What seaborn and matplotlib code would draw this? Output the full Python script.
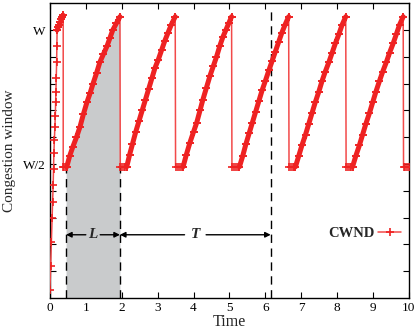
import numpy as np
import pandas as pd
import matplotlib
matplotlib.use("Agg")
import matplotlib.pyplot as plt
import seaborn as sns

# ==========================================
# Data (time in s, window in units of W)
# ==========================================

# slow start + first overshoot
slow_t = [0.00, 0.02, 0.04, 0.06, 0.075, 0.09, 0.10, 0.11, 0.125, 0.14, 0.15, 0.16, 0.167, 0.177, 0.187, 0.195,
          0.20, 0.23, 0.26, 0.29, 0.32, 0.35, 0.37]
slow_w = [0.03, 0.12, 0.21, 0.30, 0.36, 0.42, 0.48, 0.54, 0.59, 0.64, 0.68, 0.73, 0.77, 0.82, 0.88, 0.94,
          1.00, 1.01, 1.02, 1.03, 1.04, 1.05, 1.055]

# congestion avoidance cycles (each starts with the drop to W/2)
c1_t = [0.37, 0.40, 0.44, 0.47, 0.55, 0.64, 0.74, 0.84, 0.93, 1.03, 1.12, 1.20, 1.30, 1.39, 1.49, 1.59, 1.67, 1.75, 1.85, 1.95]
c1_w = [0.49, 0.49, 0.49, 0.49, 0.53, 0.565, 0.60, 0.64, 0.685, 0.73, 0.765, 0.80, 0.84, 0.88, 0.91, 0.94, 0.97, 1.00, 1.025, 1.05]

c2_t = [1.96, 2.00, 2.05, 2.10, 2.14, 2.22, 2.30, 2.39, 2.48, 2.57, 2.66, 2.75, 2.84, 2.93, 3.02, 3.11, 3.20, 3.29, 3.38, 3.49]
c2_w = [0.49, 0.49, 0.49, 0.49, 0.49, 0.535, 0.575, 0.62, 0.66, 0.70, 0.74, 0.78, 0.82, 0.86, 0.89, 0.925, 0.96, 0.99, 1.02, 1.05]

c3_t = [3.50, 3.56, 3.62, 3.67, 3.71, 3.80, 3.90, 4.00, 4.09, 4.18, 4.26, 4.36, 4.46, 4.55, 4.64, 4.73, 4.82, 4.90, 4.98, 5.06]
c3_w = [0.49, 0.49, 0.49, 0.49, 0.49, 0.535, 0.58, 0.62, 0.655, 0.70, 0.74, 0.785, 0.83, 0.865, 0.90, 0.94, 0.975, 1.00, 1.025, 1.05]

c4_t = [5.07, 5.13, 5.19, 5.24, 5.28, 5.37, 5.46, 5.55, 5.64, 5.73, 5.82, 5.91, 6.00, 6.10, 6.19, 6.28, 6.37, 6.46, 6.55, 6.65]
c4_w = [0.49, 0.49, 0.49, 0.49, 0.49, 0.53, 0.575, 0.615, 0.655, 0.695, 0.735, 0.775, 0.81, 0.85, 0.885, 0.92, 0.955, 0.99, 1.02, 1.05]

c5_t = [6.66, 6.71, 6.76, 6.80, 6.84, 6.93, 7.02, 7.12, 7.21, 7.30, 7.39, 7.49, 7.58, 7.67, 7.77, 7.86, 7.95, 8.05, 8.14, 8.24]
c5_w = [0.49, 0.49, 0.49, 0.49, 0.49, 0.53, 0.57, 0.61, 0.65, 0.69, 0.73, 0.77, 0.81, 0.845, 0.88, 0.915, 0.95, 0.985, 1.02, 1.05]

c6_t = [8.25, 8.30, 8.35, 8.39, 8.43, 8.52, 8.62, 8.71, 8.80, 8.90, 8.99, 9.08, 9.18, 9.27, 9.37, 9.46, 9.56, 9.65, 9.74, 9.84]
c6_w = [0.49, 0.49, 0.49, 0.49, 0.49, 0.53, 0.57, 0.61, 0.65, 0.69, 0.73, 0.77, 0.81, 0.845, 0.88, 0.915, 0.95, 0.985, 1.02, 1.05]

end_t = [9.85, 9.90, 9.95, 10.00]
end_w = [0.49, 0.49, 0.49, 0.49]

# annotation positions
l_start, l_end, t_end = 0.45, 1.95, 6.15

df = pd.DataFrame({
    "time": np.concatenate([slow_t, c1_t, c2_t, c3_t, c4_t, c5_t, c6_t, end_t]),
    "cwnd": np.concatenate([slow_w, c1_w, c2_w, c3_w, c4_w, c5_w, c6_w, end_w]),
})

# rising parts only (drawn thicker, like the dense samples in the original)
rise_parts = [(slow_t[16:], slow_w[16:]), (c1_t[3:], c1_w[3:]), (c2_t[4:], c2_w[4:]),
              (c3_t[4:], c3_w[4:]), (c4_t[4:], c4_w[4:]), (c5_t[4:], c5_w[4:]), (c6_t[4:], c6_w[4:])]
rise = pd.concat([pd.DataFrame({"time": t, "cwnd": w, "cycle": i})
                  for i, (t, w) in enumerate(rise_parts)], ignore_index=True)

# ==========================================
# Plot
# ==========================================

sns.set_style("ticks")
plt.rcParams["font.family"] = ["Liberation Serif", "DejaVu Serif"]

fig = plt.figure(figsize=(4.16, 3.30), dpi=100)
ax = fig.add_axes([0.120, 0.097, 0.863, 0.893])

# shaded area under first cycle
c1 = df[(df["time"] >= l_start) & (df["time"] <= l_end)]
ax.fill_between(np.concatenate([[l_start], c1["time"]]),
                np.concatenate([[0.49], c1["cwnd"]]),
                0, color="#c9cbcc", lw=0, zorder=1)

sns.lineplot(
    data=df, x="time", y="cwnd",
    estimator=None, sort=False,
    color="#f24a4a", lw=1.1,
    marker="+", markersize=6, markeredgewidth=1.2,
    markeredgecolor="#ee2222",
    label="CWND", ax=ax, zorder=3
)

sns.lineplot(
    data=rise, x="time", y="cwnd", units="cycle",
    estimator=None, sort=False,
    color="#ee2222", lw=3.6,
    marker="+", markersize=6, markeredgewidth=1.2,
    markeredgecolor="#ee2222",
    legend=False, ax=ax, zorder=4
)

# dashed guides
ax.plot([l_start, l_start], [0, 0.49], ls=(0, (6, 4)), color="black", lw=1, zorder=2)
ax.plot([l_end, l_end], [0, 0.49], ls=(0, (6, 4)), color="black", lw=1, zorder=2)
ax.plot([t_end, t_end], [0, 1.07], ls=(0, (6, 4)), color="black", lw=1, zorder=2)

# L and T arrows
arrow_y = 0.236
l_mid = (l_start + l_end) / 2
t_mid = (l_end + t_end) / 2
for x0, x1 in [(l_mid - 0.2, l_start), (l_mid + 0.2, l_end), (t_mid - 0.3, l_end), (t_mid + 0.3, t_end)]:
    ax.annotate("", xy=(x1, arrow_y), xytext=(x0, arrow_y),
                arrowprops=dict(arrowstyle="-|>", color="black", lw=1, mutation_scale=8,
                                shrinkA=0, shrinkB=0))
ax.text(l_mid, arrow_y, "L", ha="center", va="center", fontsize=11,
        fontweight="bold", fontstyle="italic")
ax.text(t_mid, arrow_y, "T", ha="center", va="center", fontsize=11,
        fontweight="bold", fontstyle="italic")

# axes
ax.set_xlim(0, 10)
ax.set_ylim(0, 1.1)
ax.set_xticks(range(0, 11))
ax.set_yticks(np.round(np.arange(0.1, 1.1, 0.1), 2))
ax.set_yticklabels(["W/2" if abs(v - 0.5) < 1e-6 else ("W" if abs(v - 1.0) < 1e-6 else "")
                    for v in np.arange(0.1, 1.1, 0.1)])
ax.tick_params(direction="in", top=True, right=True, length=4, width=0.8,
               labelsize=9.5, pad=3, colors="black")
for s in ax.spines.values():
    s.set_linewidth(1.0)
    s.set_color("black")

ax.set_xlabel("Time", fontsize=11.5, labelpad=0)
ax.set_ylabel("Congestion window", fontsize=11, labelpad=5)

ax.legend(loc="center right", bbox_to_anchor=(1.015, 0.22), frameon=False,
          markerfirst=False, handlelength=1.6, handletextpad=0.25,
          prop={"weight": "bold", "size": 10.5})

plt.savefig("out.png", dpi=100)
